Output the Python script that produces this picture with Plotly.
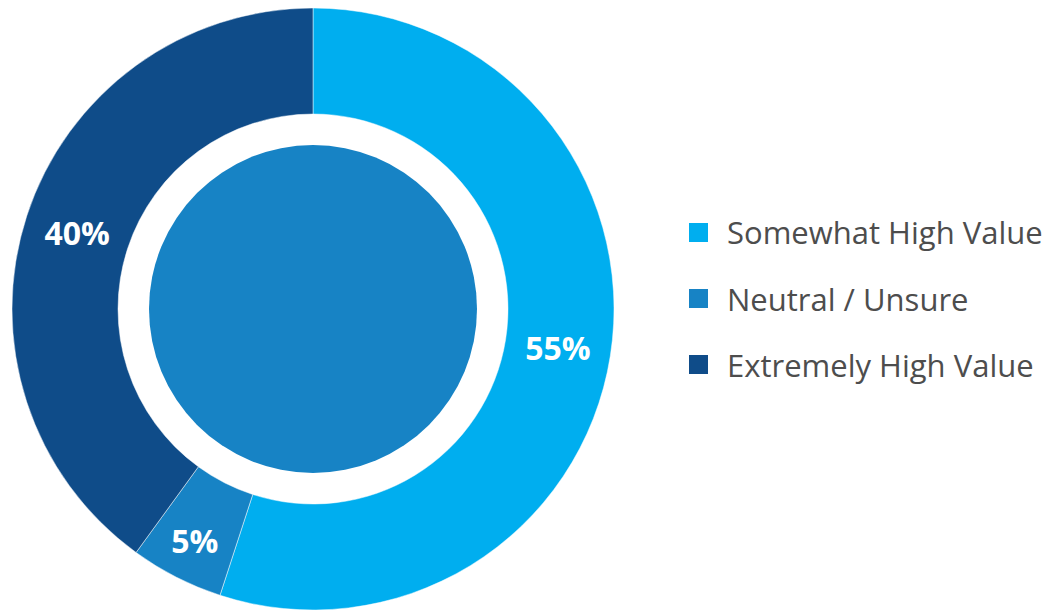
import plotly.graph_objects as go

# ---- data ----
categories = ["Somewhat High Value", "Neutral / Unsure", "Extremely High Value"]
values = [55, 5, 40]
value_labels = ["55%", "5%", "40%"]

# ---- style ----
colors = ["#00AEEF", "#1783C5", "#0F4C89"]
W, H = 1049, 610
cx, cy_bottom, R = 313, 301, 301
inner_r = 164
hole = 195 / R

fig = go.Figure()
fig.add_trace(go.Pie(
    labels=categories,
    values=values,
    text=value_labels,
    texttemplate="%{text}",
    textinfo="text",
    textposition="inside",
    insidetextorientation="horizontal",
    textfont=dict(family="Open Sans", size=32, color="white", weight="bold"),
    marker=dict(colors=colors, line=dict(color="rgba(255,255,255,0.6)", width=0.8)),
    hole=hole,
    sort=False,
    direction="clockwise",
    rotation=0,
    showlegend=False,
    domain=dict(x=[(cx - R) / W, (cx + R) / W], y=[(cy_bottom - R) / H, (cy_bottom + R) / H]),
))

# inner filled disc
fig.add_shape(type="circle", xref="paper", yref="paper",
              x0=(cx - inner_r) / W, x1=(cx + inner_r) / W,
              y0=(cy_bottom - inner_r) / H, y1=(cy_bottom + inner_r) / H,
              fillcolor=colors[1], line=dict(width=0), layer="above")

# legend
sq_x0, sq_size, text_x = 689, 19, 725
first_y, gap = 232.5, 66
for i, (name, col) in enumerate(zip(categories, colors)):
    yc = first_y + gap * i
    fig.add_shape(type="rect", xref="paper", yref="paper",
                  x0=sq_x0 / W, x1=(sq_x0 + sq_size) / W,
                  y0=1 - (yc + sq_size / 2) / H, y1=1 - (yc - sq_size / 2) / H,
                  fillcolor=col, line=dict(width=0))
    fig.add_annotation(xref="paper", yref="paper", x=text_x / W, y=1 - yc / H,
                       xanchor="left", yanchor="middle", showarrow=False,
                       text=name, font=dict(family="Open Sans", size=31, color="#4D4D4D"))

fig.update_layout(width=W, height=H, margin=dict(l=0, r=0, t=0, b=0),
                  paper_bgcolor="white", plot_bgcolor="white")
fig.write_html("out.html")
